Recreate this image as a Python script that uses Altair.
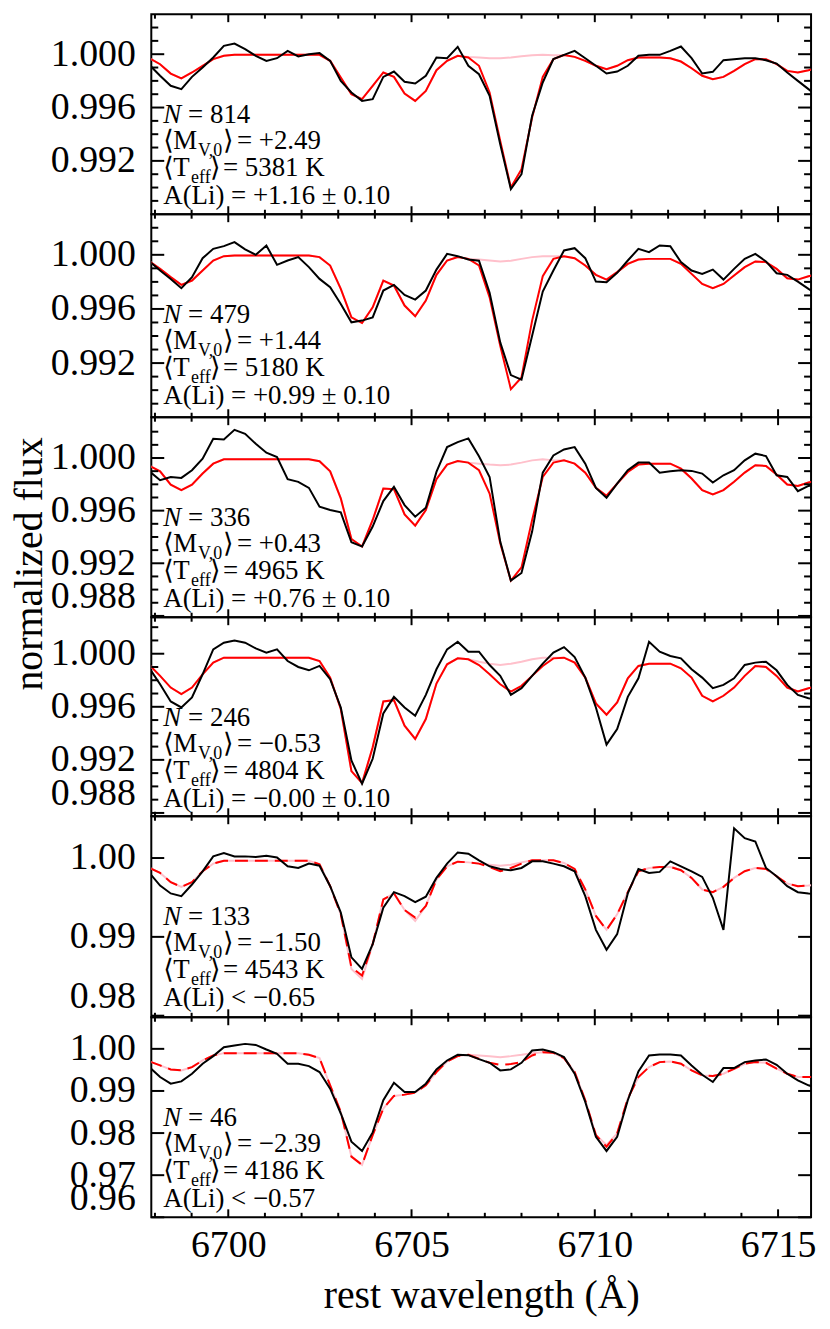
import altair as alt
import pandas as pd

FONT = "Liberation Serif, Times New Roman, DejaVu Serif, serif"

# wavelength grid of the spectra (Angstrom)
WAVE = [6697.85, 6698.14, 6698.43, 6698.72, 6699.01, 6699.30, 6699.59, 6699.88, 6700.17, 6700.46,
        6700.75, 6701.04, 6701.33, 6701.62, 6701.91, 6702.20, 6702.49, 6702.78, 6703.07, 6703.36,
        6703.65, 6703.94, 6704.23, 6704.52, 6704.81, 6705.10, 6705.39, 6705.68, 6705.97, 6706.26,
        6706.55, 6706.84, 6707.13, 6707.42, 6707.71, 6708.00, 6708.29, 6708.58, 6708.87, 6709.16,
        6709.45, 6709.74, 6710.03, 6710.32, 6710.61, 6710.90, 6711.19, 6711.48, 6711.77, 6712.06,
        6712.35, 6712.64, 6712.93, 6713.22, 6713.51, 6713.80, 6714.09, 6714.38, 6714.67, 6714.96,
        6715.25, 6715.54, 6715.83, 6716.12]

# ---- panel 1 ----
OBS_1 = [0.99920, 0.99838, 0.99763, 0.99738, 0.99830, 0.99900, 0.99975, 1.00063, 1.00080, 1.00038,
         0.99988, 0.99950, 0.99970, 1.00025, 0.99983, 1.00000, 1.00008, 0.99950, 0.99800, 0.99713,
         0.99650, 0.99663, 0.99830, 0.99870, 0.99793, 0.99780, 0.99838, 0.99975, 0.99970, 1.00055,
         0.99913, 0.99850, 0.99688, 0.99325, 0.98988, 0.99100, 0.99538, 0.99788, 0.99963, 0.99995,
         1.00025, 0.99970, 0.99913, 0.99855, 0.99870, 0.99913, 0.99988, 0.99995, 0.99995, 1.00025,
         1.00058, 0.99970, 0.99855, 0.99868, 0.99955, 0.99963, 0.99970, 0.99970, 0.99955, 0.99930,
         0.99863, 0.99800, 0.99738, 0.99675]
LI_1 = [0.99970, 0.99925, 0.99855, 0.99818, 0.99863, 0.99913, 0.99963, 0.99988, 0.99995, 0.99995,
        0.99995, 0.99995, 0.99995, 0.99995, 0.99995, 0.99995, 0.99995, 0.99950, 0.99825, 0.99700,
        0.99663, 0.99763, 0.99863, 0.99830, 0.99705, 0.99650, 0.99725, 0.99880, 0.99950, 0.99988,
        0.99975, 0.99913, 0.99713, 0.99350, 0.99000, 0.99138, 0.99525, 0.99830, 0.99963, 0.99993,
        0.99980, 0.99950, 0.99913, 0.99888, 0.99913, 0.99955, 0.99975, 0.99975, 0.99975, 0.99970,
        0.99945, 0.99895, 0.99838, 0.99813, 0.99830, 0.99875, 0.99925, 0.99963, 0.99963, 0.99925,
        0.99875, 0.99863, 0.99880, 0.99900]
NOLI_1 = [0.99970, 0.99925, 0.99855, 0.99818, 0.99863, 0.99913, 0.99963, 0.99988, 0.99995, 0.99995,
          0.99995, 0.99995, 0.99995, 0.99995, 0.99995, 0.99995, 0.99995, 0.99950, 0.99825, 0.99700,
          0.99663, 0.99763, 0.99863, 0.99830, 0.99705, 0.99650, 0.99725, 0.99880, 0.99950, 0.99988,
          0.99980, 0.99975, 0.99970, 0.99970, 0.99975, 0.99985, 0.99993, 0.99995, 0.99993, 0.99993,
          0.99980, 0.99950, 0.99913, 0.99888, 0.99913, 0.99955, 0.99975, 0.99975, 0.99975, 0.99970,
          0.99945, 0.99895, 0.99838, 0.99813, 0.99830, 0.99875, 0.99925, 0.99963, 0.99963, 0.99925,
          0.99875, 0.99863, 0.99880, 0.99900]

# ---- panel 2 ----
OBS_2 = [0.99951, 0.99884, 0.99822, 0.99753, 0.99835, 0.99975, 1.00044, 1.00064, 1.00094, 1.00040,
         1.00000, 1.00069, 0.99926, 0.99958, 0.99983, 0.99909, 0.99822, 0.99760, 0.99637, 0.99501,
         0.99514, 0.99538, 0.99736, 0.99778, 0.99704, 0.99669, 0.99736, 0.99891, 1.00007, 0.99990,
         0.99965, 0.99956, 0.99719, 0.99353, 0.99111, 0.99077, 0.99402, 0.99728, 0.99884, 1.00032,
         1.00049, 0.99975, 0.99802, 0.99798, 0.99867, 0.99958, 1.00044, 1.00020, 1.00069, 1.00064,
         0.99946, 0.99884, 0.99859, 0.99891, 0.99817, 0.99896, 0.99970, 1.00007, 0.99951, 0.99864,
         0.99852, 0.99802, 0.99748, 0.99699]
LI_2 = [0.99951, 0.99896, 0.99835, 0.99778, 0.99810, 0.99884, 0.99958, 0.99990, 0.99995, 0.99995,
        0.99995, 0.99995, 0.99995, 0.99995, 0.99995, 0.99995, 0.99983, 0.99921, 0.99748, 0.99538,
        0.99496, 0.99612, 0.99810, 0.99773, 0.99625, 0.99546, 0.99662, 0.99852, 0.99958, 0.99983,
        0.99970, 0.99921, 0.99686, 0.99328, 0.99007, 0.99094, 0.99514, 0.99842, 0.99970, 0.99990,
        0.99975, 0.99921, 0.99852, 0.99817, 0.99872, 0.99933, 0.99965, 0.99970, 0.99970, 0.99970,
        0.99933, 0.99859, 0.99785, 0.99753, 0.99785, 0.99847, 0.99909, 0.99951, 0.99946, 0.99896,
        0.99827, 0.99817, 0.99842, 0.99859]
NOLI_2 = [0.99951, 0.99896, 0.99835, 0.99778, 0.99810, 0.99884, 0.99958, 0.99990, 0.99995, 0.99995,
          0.99995, 0.99995, 0.99995, 0.99995, 0.99995, 0.99995, 0.99983, 0.99921, 0.99748, 0.99538,
          0.99496, 0.99612, 0.99810, 0.99773, 0.99625, 0.99546, 0.99662, 0.99852, 0.99958, 0.99983,
          0.99970, 0.99965, 0.99958, 0.99951, 0.99956, 0.99970, 0.99983, 0.99990, 0.99990, 0.99990,
          0.99975, 0.99921, 0.99852, 0.99817, 0.99872, 0.99933, 0.99965, 0.99970, 0.99970, 0.99970,
          0.99933, 0.99859, 0.99785, 0.99753, 0.99785, 0.99847, 0.99909, 0.99951, 0.99946, 0.99896,
          0.99827, 0.99817, 0.99842, 0.99859]

# ---- panel 3 ----
OBS_3 = [0.99899, 0.99831, 0.99856, 0.99849, 0.99907, 0.99995, 1.00146, 1.00141, 1.00214, 1.00184,
         1.00108, 1.00040, 1.00008, 0.99839, 0.99819, 0.99773, 0.99630, 0.99605, 0.99587, 0.99360,
         0.99327, 0.99479, 0.99673, 0.99781, 0.99642, 0.99554, 0.99622, 0.99894, 1.00083, 1.00121,
         1.00149, 1.00013, 0.99856, 0.99365, 0.99068, 0.99126, 0.99441, 0.99889, 1.00020, 1.00065,
         1.00083, 0.99957, 0.99773, 0.99698, 0.99806, 0.99907, 0.99965, 0.99965, 0.99889, 0.99899,
         0.99907, 0.99902, 0.99882, 0.99814, 0.99869, 0.99907, 0.99982, 1.00033, 1.00015, 0.99869,
         0.99856, 0.99748, 0.99788, 0.99806]
LI_3 = [0.99940, 0.99899, 0.99798, 0.99756, 0.99798, 0.99882, 0.99957, 0.99990, 0.99990, 0.99990,
        0.99990, 0.99990, 0.99990, 0.99990, 0.99990, 0.99990, 0.99975, 0.99899, 0.99693, 0.99385,
        0.99327, 0.99529, 0.99768, 0.99763, 0.99572, 0.99486, 0.99605, 0.99839, 0.99950, 0.99977,
        0.99965, 0.99907, 0.99730, 0.99353, 0.99068, 0.99169, 0.99529, 0.99856, 0.99965, 0.99982,
        0.99957, 0.99889, 0.99773, 0.99713, 0.99806, 0.99894, 0.99950, 0.99957, 0.99957, 0.99957,
        0.99919, 0.99844, 0.99756, 0.99723, 0.99756, 0.99819, 0.99889, 0.99945, 0.99940, 0.99874,
        0.99798, 0.99788, 0.99814, 0.99831]
NOLI_3 = [0.99940, 0.99899, 0.99798, 0.99756, 0.99798, 0.99882, 0.99957, 0.99990, 0.99990, 0.99990,
          0.99990, 0.99990, 0.99990, 0.99990, 0.99990, 0.99990, 0.99975, 0.99899, 0.99693, 0.99385,
          0.99327, 0.99529, 0.99768, 0.99763, 0.99572, 0.99486, 0.99605, 0.99839, 0.99950, 0.99977,
          0.99965, 0.99957, 0.99950, 0.99945, 0.99950, 0.99965, 0.99982, 0.99990, 0.99982, 0.99982,
          0.99957, 0.99889, 0.99773, 0.99713, 0.99806, 0.99894, 0.99950, 0.99957, 0.99957, 0.99957,
          0.99919, 0.99844, 0.99756, 0.99723, 0.99756, 0.99819, 0.99889, 0.99945, 0.99940, 0.99874,
          0.99798, 0.99788, 0.99814, 0.99831]

# ---- panel 4 ----
OBS_4 = [0.99890, 0.99770, 0.99640, 0.99595, 0.99670, 0.99845, 1.00033, 1.00083, 1.00100, 1.00083,
         1.00040, 1.00008, 1.00033, 0.99945, 0.99900, 0.99875, 0.99908, 0.99808, 0.99595, 0.99195,
         0.99020, 0.99208, 0.99550, 0.99675, 0.99595, 0.99533, 0.99690, 0.99883, 1.00033, 1.00090,
         1.00015, 1.00015, 0.99915, 0.99833, 0.99690, 0.99740, 0.99833, 0.99925, 1.00008, 1.00050,
         0.99975, 0.99820, 0.99595, 0.99315, 0.99433, 0.99675, 0.99815, 1.00090, 1.00015, 0.99983,
         0.99965, 0.99883, 0.99820, 0.99740, 0.99765, 0.99815, 0.99915, 0.99933, 0.99940, 0.99875,
         0.99765, 0.99690, 0.99665, 0.99650]
LI_4 = [0.99915, 0.99833, 0.99745, 0.99695, 0.99745, 0.99845, 0.99933, 0.99970, 0.99970, 0.99970,
        0.99970, 0.99970, 0.99970, 0.99970, 0.99970, 0.99970, 0.99945, 0.99820, 0.99583, 0.99115,
        0.99025, 0.99295, 0.99640, 0.99650, 0.99458, 0.99358, 0.99508, 0.99775, 0.99920, 0.99965,
        0.99958, 0.99915, 0.99845, 0.99770, 0.99715, 0.99758, 0.99833, 0.99908, 0.99965, 0.99970,
        0.99933, 0.99820, 0.99625, 0.99540, 0.99633, 0.99815, 0.99908, 0.99925, 0.99925, 0.99925,
        0.99890, 0.99820, 0.99683, 0.99640, 0.99683, 0.99745, 0.99833, 0.99908, 0.99900, 0.99833,
        0.99745, 0.99715, 0.99740, 0.99758]
NOLI_4 = [0.99915, 0.99833, 0.99745, 0.99695, 0.99745, 0.99845, 0.99933, 0.99970, 0.99970, 0.99970,
          0.99970, 0.99970, 0.99970, 0.99970, 0.99970, 0.99970, 0.99945, 0.99820, 0.99583, 0.99115,
          0.99025, 0.99295, 0.99640, 0.99650, 0.99458, 0.99358, 0.99508, 0.99775, 0.99920, 0.99965,
          0.99958, 0.99940, 0.99925, 0.99915, 0.99925, 0.99940, 0.99958, 0.99970, 0.99970, 0.99970,
          0.99933, 0.99820, 0.99625, 0.99540, 0.99633, 0.99815, 0.99908, 0.99925, 0.99925, 0.99925,
          0.99890, 0.99820, 0.99683, 0.99640, 0.99683, 0.99745, 0.99833, 0.99908, 0.99900, 0.99833,
          0.99745, 0.99715, 0.99740, 0.99758]

# ---- panel 5 ----
OBS_5 = [0.99811, 0.99651, 0.99551, 0.99517, 0.99664, 0.99832, 1.00021, 1.00063, 1.00021, 1.00021,
         1.00013, 1.00029, 1.00008, 0.99895, 0.99874, 0.99929, 0.99903, 0.99643, 0.99307, 0.98740,
         0.98593, 0.98908, 0.99370, 0.99567, 0.99517, 0.99441, 0.99509, 0.99748, 0.99929, 1.00071,
         1.00055, 0.99971, 0.99895, 0.99861, 0.99845, 0.99874, 0.99958, 0.99958, 0.99929, 0.99895,
         0.99832, 0.99517, 0.99089, 0.98837, 0.99034, 0.99551, 0.99861, 0.99811, 0.99824, 0.99958,
         0.99895, 0.99832, 0.99761, 0.99496, 0.99089, 1.00378, 1.00252, 1.00210, 0.99874, 0.99769,
         0.99643, 0.99567, 0.99551, 0.99542]
LI_5 = [0.99874, 0.99811, 0.99693, 0.99635, 0.99693, 0.99832, 0.99929, 0.99966, 0.99966, 0.99966,
        0.99966, 0.99966, 0.99966, 0.99966, 0.99966, 0.99966, 0.99920, 0.99643, 0.99286, 0.98614,
        0.98509, 0.98908, 0.99475, 0.99551, 0.99341, 0.99244, 0.99391, 0.99727, 0.99895, 0.99954,
        0.99945, 0.99929, 0.99887, 0.99832, 0.99874, 0.99929, 0.99971, 0.99971, 0.99971, 0.99937,
        0.99861, 0.99601, 0.99265, 0.99089, 0.99286, 0.99567, 0.99832, 0.99874, 0.99887, 0.99887,
        0.99845, 0.99748, 0.99601, 0.99567, 0.99635, 0.99748, 0.99832, 0.99874, 0.99861, 0.99769,
        0.99677, 0.99643, 0.99651, 0.99664]
NOLI_5 = [0.99874, 0.99811, 0.99693, 0.99635, 0.99693, 0.99832, 0.99929, 0.99966, 0.99966, 0.99966,
          0.99966, 0.99966, 0.99966, 0.99966, 0.99966, 0.99966, 0.99920, 0.99643, 0.99286, 0.98593,
          0.98467, 0.98908, 0.99475, 0.99551, 0.99341, 0.99202, 0.99391, 0.99727, 0.99895, 0.99954,
          0.99945, 0.99929, 0.99916, 0.99903, 0.99916, 0.99945, 0.99971, 0.99971, 0.99971, 0.99937,
          0.99861, 0.99601, 0.99265, 0.99089, 0.99286, 0.99567, 0.99832, 0.99874, 0.99887, 0.99887,
          0.99845, 0.99748, 0.99601, 0.99567, 0.99635, 0.99748, 0.99832, 0.99874, 0.99861, 0.99769,
          0.99677, 0.99643, 0.99651, 0.99664]

# ---- panel 6 ----
OBS_6 = [0.99567, 0.99331, 0.99173, 0.99228, 0.99409, 0.99646, 0.99827, 1.00039, 1.00079, 1.00118,
         1.00094, 0.99984, 0.99882, 0.99646, 0.99646, 0.99591, 0.99449, 0.99055, 0.98465, 0.97795,
         0.97575, 0.98016, 0.98780, 0.99197, 0.98976, 0.98976, 0.99173, 0.99512, 0.99724, 0.99858,
         0.99850, 0.99756, 0.99669, 0.99488, 0.99512, 0.99669, 0.99961, 0.99984, 0.99921, 0.99803,
         0.99409, 0.98740, 0.97913, 0.97575, 0.97913, 0.98780, 0.99465, 0.99843, 0.99866, 0.99866,
         0.99843, 0.99606, 0.99386, 0.99213, 0.99543, 0.99543, 0.99685, 0.99724, 0.99748, 0.99622,
         0.99409, 0.99252, 0.99134, 0.99055]
LI_6 = [0.99701, 0.99606, 0.99512, 0.99488, 0.99567, 0.99724, 0.99843, 0.99898, 0.99898, 0.99898,
        0.99898, 0.99898, 0.99898, 0.99898, 0.99898, 0.99858, 0.99780, 0.99134, 0.98504, 0.97441,
        0.97244, 0.97953, 0.98583, 0.98882, 0.98913, 0.98961, 0.99134, 0.99449, 0.99701, 0.99827,
        0.99858, 0.99764, 0.99669, 0.99622, 0.99638, 0.99685, 0.99843, 0.99921, 0.99906, 0.99780,
        0.99449, 0.98780, 0.97953, 0.97677, 0.97992, 0.98819, 0.99331, 0.99567, 0.99685, 0.99701,
        0.99646, 0.99488, 0.99370, 0.99354, 0.99409, 0.99528, 0.99646, 0.99685, 0.99669, 0.99528,
        0.99409, 0.99331, 0.99331, 0.99331]
NOLI_6 = [0.99701, 0.99606, 0.99512, 0.99488, 0.99567, 0.99724, 0.99843, 0.99898, 0.99898, 0.99898,
          0.99898, 0.99898, 0.99898, 0.99898, 0.99898, 0.99858, 0.99780, 0.99134, 0.98504, 0.97441,
          0.97244, 0.97953, 0.98583, 0.98882, 0.98913, 0.98961, 0.99134, 0.99449, 0.99701, 0.99827,
          0.99858, 0.99843, 0.99827, 0.99803, 0.99827, 0.99858, 0.99898, 0.99921, 0.99906, 0.99780,
          0.99449, 0.98780, 0.97953, 0.97717, 0.97992, 0.98819, 0.99331, 0.99567, 0.99685, 0.99701,
          0.99646, 0.99488, 0.99370, 0.99354, 0.99409, 0.99528, 0.99646, 0.99685, 0.99669, 0.99528,
          0.99409, 0.99331, 0.99331, 0.99331]

# ---- annotations ----
N_STARS = ["814", "479", "336", "246", "133", "46"]
MV0 = ["+2.49", "+1.44", "+0.43", "\u22120.53", "\u22121.50", "\u22122.39"]
TEFF = ["5381", "5180", "4965", "4804", "4543", "4186"]
ALI = ["A(Li) = +1.16 \u00b1 0.10", "A(Li) = +0.99 \u00b1 0.10", "A(Li) = +0.76 \u00b1 0.10",
       "A(Li) = \u22120.00 \u00b1 0.10", "A(Li) < \u22120.65", "A(Li) < \u22120.57"]

# ---- axes ----
X_DOMAIN = [6697.9, 6715.9]
X_LABELS = [6700, 6705, 6710, 6715]
X_MINOR = [6698, 6699, 6701, 6702, 6703, 6704, 6706, 6707, 6708, 6709, 6711, 6712, 6713, 6714]

Y_DOMAINS = [[0.988, 1.003], [0.988, 1.003], [0.9879, 1.0031], [0.98775, 1.00275],
             [0.9798, 1.0053], [0.960, 1.0075]]
Y_LABELS = [[0.992, 0.996, 1.000], [0.992, 0.996, 1.000], [0.988, 0.992, 0.996, 1.000],
            [0.988, 0.992, 0.996, 1.000], [0.98, 0.99, 1.00], [0.96, 0.97, 0.98, 0.99, 1.00]]
Y_FMT = [".3f", ".3f", ".3f", ".3f", ".2f", ".2f"]
Y_MINOR_FINE = [0.989, 0.990, 0.991, 0.993, 0.994, 0.995, 0.997, 0.998, 0.999, 1.001, 1.002]
Y_MINOR = [Y_MINOR_FINE, Y_MINOR_FINE, Y_MINOR_FINE, Y_MINOR_FINE, [], []]

SERIES = [(OBS_1, LI_1, NOLI_1), (OBS_2, LI_2, NOLI_2), (OBS_3, LI_3, NOLI_3),
          (OBS_4, LI_4, NOLI_4), (OBS_5, LI_5, NOLI_5), (OBS_6, LI_6, NOLI_6)]
DASHED = [False, False, False, False, True, True]
HEIGHTS = [201, 204, 201, 200, 202, 201]
W = 663
LABEL_SIZE = 38
TITLE_SIZE = 40
TEXT_SIZE = 27
SUB_SIZE = 18


def txt(s, x, y, size=TEXT_SIZE, style="normal"):
    return alt.Chart(pd.DataFrame({"t": [s]})).mark_text(
        align="left", baseline="alphabetic", font=FONT, fontSize=size,
        fontStyle=style, color="black"
    ).encode(x=alt.value(x), y=alt.value(y), text="t:N")


def panel(i):
    obs, li, noli = SERIES[i]
    H = HEIGHTS[i]
    last = i == len(SERIES) - 1
    df = pd.DataFrame({"wave": WAVE, "obs": obs, "li": li, "noli": noli})
    xs = alt.Scale(domain=X_DOMAIN, nice=False, zero=False)
    ys = alt.Scale(domain=Y_DOMAINS[i], nice=False, zero=False)

    if last:
        xaxis = alt.Axis(values=X_LABELS, format="d", ticks=False, domain=False, grid=False,
                         labelPadding=9, labelOverlap=False,
                         title="rest wavelength (\u00c5)", titlePadding=12)
    else:
        xaxis = None

    yargs = dict(values=Y_LABELS[i], format=Y_FMT[i], ticks=False, domain=False, grid=False,
                 labelPadding=16, labelFlush=6, labelOverlap=False)
    if i == 2:
        yaxis = alt.Axis(title="normalized flux", titleAngle=270, titleX=-122, titleY=147,
                         titleAlign="center", titleBaseline="middle", **yargs)
    else:
        yaxis = alt.Axis(title=None, **yargs)

    X = lambda f: alt.X(f, type="quantitative", scale=xs, axis=xaxis)
    Y = lambda f: alt.Y(f, type="quantitative", scale=ys, axis=yaxis)

    base = alt.Chart(df)
    pink = base.mark_line(color="#FFC0CB", strokeWidth=2, clip=True).encode(x=X("wave"), y=Y("noli"))
    if DASHED[i]:
        red = base.mark_line(color="#FF0000", strokeWidth=2, clip=True, strokeDash=[13, 7])
    else:
        red = base.mark_line(color="#FF0000", strokeWidth=2, clip=True)
    red = red.encode(x=X("wave"), y=Y("li"))
    black = base.mark_line(color="black", strokeWidth=2, clip=True).encode(x=X("wave"), y=Y("obs"))

    layers = [pink, red, black]

    # x ticks (inside, top and bottom)
    for vals, ln in ((X_MINOR, 4.5), (X_LABELS, 8)):
        tdf = pd.DataFrame({"v": vals})
        layers.append(alt.Chart(tdf).mark_rule(color="black", strokeWidth=2).encode(
            x=X("v"), y=alt.value(0), y2=alt.value(ln)))
        layers.append(alt.Chart(tdf).mark_rule(color="black", strokeWidth=2).encode(
            x=X("v"), y=alt.value(H), y2=alt.value(H - ln)))
    # y ticks (inside, left and right)
    for vals, ln in ((Y_MINOR[i], 7), (Y_LABELS[i], 13)):
        if not vals:
            continue
        tdf = pd.DataFrame({"v": vals})
        layers.append(alt.Chart(tdf).mark_rule(color="black", strokeWidth=2).encode(
            y=Y("v"), x=alt.value(0), x2=alt.value(ln)))
        layers.append(alt.Chart(tdf).mark_rule(color="black", strokeWidth=2).encode(
            y=Y("v"), x=alt.value(W), x2=alt.value(W - ln)))

    # annotation text
    layers += [
        txt("N", 12, 109, style="italic"),
        txt("= " + N_STARS[i], 37, 109),
        txt("\u27e8", 12, 135),
        txt("M", 22, 135),
        txt("V,0", 47, 142, size=SUB_SIZE),
        txt("\u27e9", 72, 135),
        txt("= " + MV0[i], 86, 135),
        txt("\u27e8", 12, 163),
        txt("T", 22, 163),
        txt("eff", 40, 170, size=SUB_SIZE),
        txt("\u27e9", 59, 163),
        txt("= " + TEFF[i] + " K", 72, 163),
        txt(ALI[i], 12, 191),
    ]
    return alt.layer(*layers).properties(width=W, height=H)


chart = alt.vconcat(*[panel(i) for i in range(6)], spacing=0, bounds="flush").properties(
    padding={"left": 1, "top": 1, "right": 5, "bottom": 2}
).configure_view(
    stroke="black", strokeWidth=2
).configure_axis(
    labelFont=FONT, labelFontSize=LABEL_SIZE, labelColor="black",
    titleFont=FONT, titleFontSize=TITLE_SIZE, titleFontWeight="normal", titleColor="black"
)

chart.save("out.html", embed_options={"renderer": "svg", "actions": False})
